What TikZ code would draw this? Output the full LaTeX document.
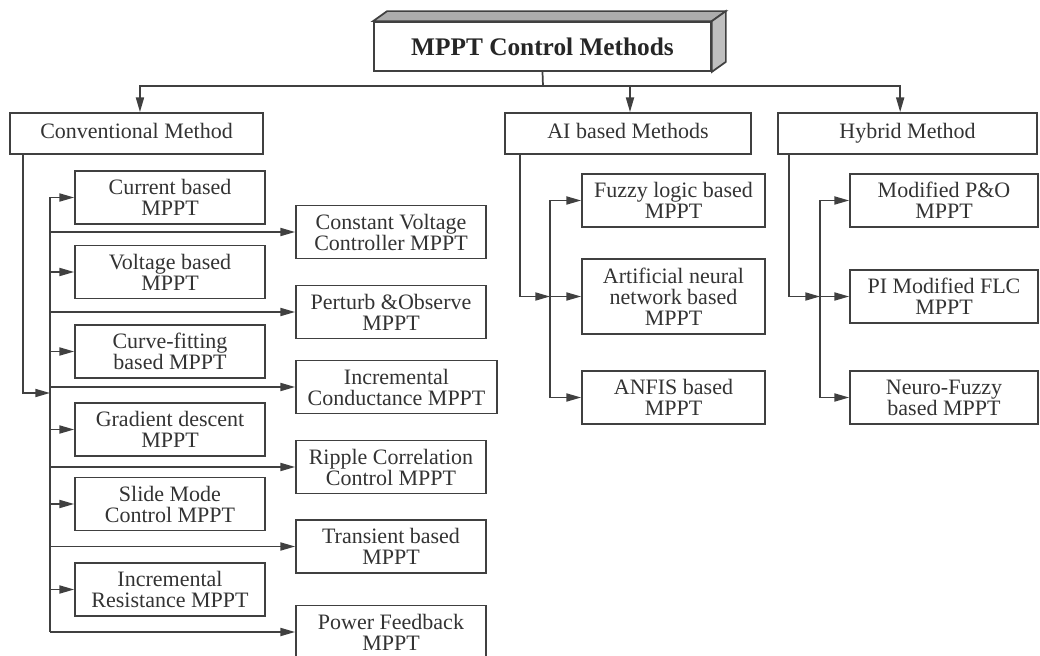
\documentclass[tikz,border=0pt]{standalone}
\usepackage{fontspec}
\setmainfont{Liberation Serif}
\usetikzlibrary{arrows.meta, positioning, calc}
\tikzset{
    box_title/.style={rectangle, draw=black!75, line width=1.3pt, fill=white, minimum width=252.75pt, minimum height=36.75pt, font=\fontsize{19}{19}\selectfont\bfseries, text=black!85},
    box_group/.style={rectangle, draw=black!75, line width=1.3pt, minimum height=30.75pt, text height=11pt, text depth=3.5pt, font=\fontsize{16.5}{16.5}\selectfont, text=black!80},
    box_method/.style={rectangle, draw=black!75, line width=1.3pt, align=center, inner sep=0pt, minimum height=39.75pt, font=\fontsize{16.5}{15.75}\selectfont, text=black!80},
    link/.style={draw=black!75, line width=1.3pt},
    arrow/.style={link, -{Triangle[length=11pt, width=6pt]}}
}

\begin{document}
\begin{tikzpicture}[x=0.75pt, y=-0.75pt]

    \useasboundingbox (0,0) rectangle (1040,656);
    \clip (0,0) rectangle (1040,656);

    % Title box (3D)
    \node[box_title] (title) at (542.5,46.5) {MPPT Control Methods};
    \filldraw[draw=black!75, line width=1.3pt, fill=gray!65] (title.north west) -- ++(14,-10) -- ($(title.north east)+(14,-10)$) -- (title.north east) -- cycle;
    \filldraw[draw=black!75, line width=1.3pt, fill=gray!50] (title.north east) -- ++(14,-10) -- ($(title.south east)+(14,-10)$) -- (title.south east) -- cycle;

    % Groups
    \node[box_group, minimum width=189.75pt] (conv) at (136.5,133.5) {Conventional Method};
    \node[box_group, minimum width=184.5pt] (ai) at (628,133.5) {AI based Methods};
    \node[box_group, minimum width=194.25pt] (hyb) at (907.5,133.5) {Hybrid Method};

    \coordinate (split) at (543,86);
    \draw[link] (title.south) -- (split);
    \draw[arrow] (split) -| ([xshift=2.6pt]conv.north);
    \draw[arrow] (split) -| ([xshift=1.5pt]ai.north);
    \draw[arrow] (split) -| ([xshift=-5.5pt]hyb.north);

    % Conventional - left column
    \node[box_method, minimum width=142.5pt] (cur) at (170,197.5) {Current based\\MPPT};
    \node[box_method, minimum width=142.5pt] (volt) at (170,272) {Voltage based\\MPPT};
    \node[box_method, minimum width=142.5pt] (curve) at (170,351.5) {Curve-fitting\\based MPPT};
    \node[box_method, minimum width=142.5pt] (grad) at (170,429.5) {Gradient descent\\MPPT};
    \node[box_method, minimum width=142.5pt] (slide) at (170,504) {Slide Mode\\Control MPPT};
    \node[box_method, minimum width=142.5pt] (incres) at (170,589.5) {Incremental\\Resistance MPPT};

    % Conventional - right column
    \node[box_method, minimum width=142.5pt] (cvc) at (391,232) {Constant Voltage\\Controller MPPT};
    \node[box_method, minimum width=142.5pt] (po) at (391,312) {Perturb \&Observe\\MPPT};
    \node[box_method, minimum width=150.75pt] (inccond) at (396.5,387) {Incremental\\Conductance MPPT};
    \node[box_method, minimum width=142.5pt] (ripple) at (391,467) {Ripple Correlation\\Control MPPT};
    \node[box_method, minimum width=142.5pt] (trans) at (391,546.5) {Transient based\\MPPT};
    \node[box_method, minimum width=142.5pt] (pfb) at (391,632) {Power Feedback\\MPPT};

    \coordinate (cbus) at (50,393);
    \draw[arrow] ($(conv.south west)+(14,0)$) |- (cbus);
    \draw[link] (cur.west -| cbus) -- (pfb.west -| cbus);
    \foreach \b in {cur,volt,curve,grad,slide,incres,cvc,po,inccond,ripple,trans,pfb}
        \draw[arrow] (\b.west -| cbus) -- (\b.west);

    % AI based
    \node[box_method, minimum width=137.25pt] (fuzzy) at (673.5,200.5) {Fuzzy logic based\\MPPT};
    \node[box_method, minimum width=137.25pt, minimum height=56.25pt] (ann) at (673.5,296.5) {Artificial neural\\network based\\MPPT};
    \node[box_method, minimum width=137.25pt] (anfis) at (673.5,397.5) {ANFIS based\\MPPT};

    \coordinate (abus) at (550,296.5);
    \draw[arrow] ($(ai.south west)+(16,0)$) |- (abus);
    \draw[link] (fuzzy.west -| abus) -- (anfis.west -| abus);
    \foreach \b in {fuzzy,ann,anfis}
        \draw[arrow] (\b.west -| abus) -- (\b.west);

    % Hybrid
    \node[box_method, minimum width=141pt] (mpo) at (944,200.5) {Modified P\&O\\MPPT};
    \node[box_method, minimum width=141pt] (piflc) at (944,296.5) {PI Modified FLC\\MPPT};
    \node[box_method, minimum width=141pt] (nf) at (944,397.5) {Neuro-Fuzzy\\based MPPT};

    \coordinate (hbus) at (820,296.5);
    \draw[arrow] ($(hyb.south west)+(12,0)$) |- (hbus);
    \draw[link] (mpo.west -| hbus) -- (nf.west -| hbus);
    \foreach \b in {mpo,piflc,nf}
        \draw[arrow] (\b.west -| hbus) -- (\b.west);

\end{tikzpicture}
\end{document}
